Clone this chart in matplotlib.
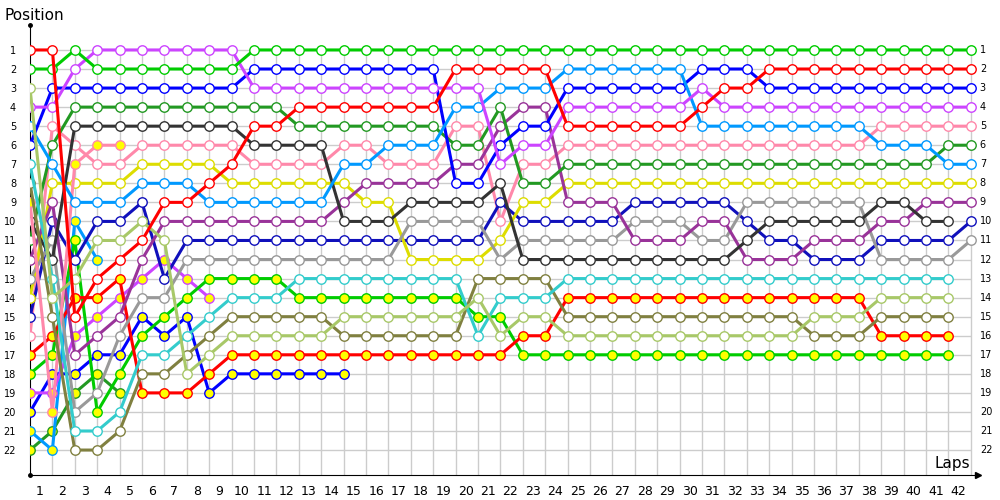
import numpy as np
import matplotlib.pyplot as plt

# positions per lap, lap 0 = starting grid
red = [1, 1, 15, 13, 12, 11, 9, 9, 8, 7,
       5, 5, 4, 4, 4, 4, 4, 4, 4, 2,
       2, 2, 2, 2, 5, 5, 5, 5, 5, 5,
       4, 3, 3, 2, 2, 2, 2, 2, 2, 2,
       2, 2, 2]
green = [2, 2, 1, 2, 2, 2, 2, 2, 2, 2] + [1] * 33
lgreen = [3, 14, 13, 11, 11, 10, 11, 18, 17, 16,
          16, 16, 16, 16, 15, 15, 15, 15, 15, 15,
          14, 16, 15, 15, 16, 16, 16, 16, 16, 16,
          16, 16, 16, 16, 16, 15, 15, 15, 14, 14,
          14, 14]
violet = [4, 4, 2, 1, 1, 1, 1, 1, 1, 1,
          3, 3, 3, 3, 3, 3, 3, 3, 3, 3,
          3, 7, 6, 6, 4, 4, 4, 4, 4, 4,
          3, 4, 4, 4, 4, 4, 4, 4, 4, 4,
          4, 4, 4]
lblue = [5, 7, 9, 9, 9, 8, 8, 8, 9, 9,
         9, 9, 9, 9, 7, 7, 6, 6, 6, 4,
         4, 3, 3, 3, 2, 2, 2, 2, 2, 2,
         5, 5, 5, 5, 5, 5, 5, 5, 6, 6,
         6, 7, 7]
blue = [6, 3, 3, 3, 3, 3, 3, 3, 3, 3,
        2, 2, 2, 2, 2, 2, 2, 2, 2, 8,
        8, 6, 5, 5, 3, 3, 3, 3, 3, 3,
        2, 2, 2, 3, 3, 3, 3, 3, 3, 3,
        3, 3, 3]
cyan = [7, 13, 21, 21, 20, 17, 17, 16, 15, 14,
        14, 14, 13, 13, 13, 13, 13, 13, 13, 13,
        16, 14, 14, 14, 13, 13, 13, 13, 13, 13,
        13, 13, 13, 13, 13, 13, 13, 13, 13, 13,
        13, 13]
olive = [8, 15, 22, 22, 21, 18, 18, 17, 16, 15,
         15, 15, 15, 15, 16, 16, 16, 16, 16, 16,
         13, 13, 13, 13, 15, 15, 15, 15, 15, 15,
         15, 15, 15, 15, 15, 16, 16, 16, 15, 15,
         15, 15]
dgray = [10, 12, 5, 5, 5, 5, 5, 5, 5, 5,
         6, 6, 6, 6, 10, 10, 10, 9, 9, 9,
         9, 8, 12, 12, 12, 12, 12, 12, 12, 12,
         12, 12, 11, 10, 10, 10, 10, 10, 9, 9,
         10, 10]
dgreen = [11, 6, 4, 4, 4, 4, 4, 4, 4, 4,
          4, 4, 5, 5, 5, 5, 5, 5, 5, 6,
          6, 4, 8, 8, 7, 7, 7, 7, 7, 7,
          7, 7, 7, 7, 7, 7, 7, 7, 7, 7,
          7, 6, 6]
purple = [12, 9, 17, 16, 15, 12, 10, 10, 10, 10,
          10, 10, 10, 10, 9, 8, 8, 8, 8, 7,
          7, 5, 4, 4, 9, 9, 9, 11, 11, 11,
          10, 10, 12, 12, 12, 11, 11, 11, 10, 10,
          9, 9, 9]
gray = [13, 11, 20, 19, 16, 14, 14, 12, 12, 12,
        12, 12, 12, 12, 12, 12, 12, 10, 10, 10,
        10, 12, 11, 11, 11, 11, 11, 10, 10, 10,
        11, 11, 9, 9, 9, 9, 9, 9, 12, 12,
        12, 12, 11]
yellow = [14, 8, 8, 8, 8, 7, 7, 7, 7, 8,
          8, 8, 8, 8, 8, 9, 9, 12, 12, 12,
          12, 11, 9, 9, 8, 8, 8, 8, 8, 8,
          8, 8, 8, 8, 8, 8, 8, 8, 8, 8,
          8, 8, 8]
dblue = [15, 10, 12, 10, 10, 9, 13, 11, 11, 11,
         11, 11, 11, 11, 11, 11, 11, 11, 11, 11,
         11, 9, 10, 10, 10, 10, 10, 9, 9, 9,
         9, 9, 10, 11, 11, 12, 12, 12, 11, 11,
         11, 11, 10]
pink = [16, 5, 6, 7, 7, 6, 6, 6, 6, 6,
        7, 7, 7, 7, 6, 6, 7, 7, 7, 5,
        5, 10, 7, 7, 6, 6, 6, 6, 6, 6,
        6, 6, 6, 6, 6, 6, 6, 6, 5, 5,
        5, 5, 5]
red_b = [17, 16, 14, 14, 13, 19, 19, 19, 18, 17,
         17, 17, 17, 17, 17, 17, 17, 17, 17, 17,
         17, 17, 16, 16, 14, 14, 14, 14, 14, 14,
         14, 14, 14, 14, 14, 14, 14, 14, 16, 16,
         16, 16]
green_b = [18, 17, 11, 20, 18, 16, 15, 14, 13, 13,
           13, 13, 14, 14, 14, 14, 14, 14, 14, 14,
           15, 15, 17, 17, 17, 17, 17, 17, 17, 17,
           17, 17, 17, 17, 17, 17, 17, 17, 17, 17,
           17, 17]
pink_b = [9, 20, 7, 6, 6]
violet_b = [19, 19, 16, 15, 14, 13, 12, 13, 14]
blue_b = [20, 18, 18, 17, 17, 15, 16, 15, 19, 18, 18, 18, 18, 18, 18]
lblue_b = [21, 22, 10, 12]
dgreen_b = [22, 21, 19, 18, 19]

# (positions, line colour, second car = yellow marker)
drivers = [
    (dgreen_b, '#229922', True), (lblue_b, '#0099ff', True),
    (blue_b, '#0000ff', True), (violet_b, '#cc44ff', True),
    (green_b, '#00cc00', True), (red_b, '#ff0000', True),
    (pink, '#ff88aa', False), (dblue, '#1010bb', False),
    (yellow, '#dddd00', False), (gray, '#999999', False),
    (purple, '#993399', False), (dgreen, '#229922', False),
    (dgray, '#333333', False), (pink_b, '#ff88aa', True),
    (olive, '#808040', False), (cyan, '#33cccc', False),
    (blue, '#0000ff', False), (lblue, '#0099ff', False),
    (violet, '#cc44ff', False), (lgreen, '#a8c868', False),
    (green, '#00cc00', False), (red, '#ff0000', False),
]

n_laps = 42
n_pos = 22

fig = plt.figure(figsize=(10, 5), dpi=100)
ax = fig.add_axes([0.03, 0.05, 0.948, 0.9])
ax.set_xlim(0, 42.32)
ax.set_ylim(23.31, -0.31)

# grid
ax.hlines(np.arange(1, n_pos + 1), 0, n_laps, color='#cccccc', lw=1, zorder=0)
ax.vlines(np.arange(1, n_laps + 1), 1, 23.31, color='#cccccc', lw=1, zorder=0)

for pos, col, second in drivers:
    x = np.arange(len(pos))
    ax.plot(x, pos, '-o', color=col, lw=2.2, ms=6.8, mew=1,
            mec=col, mfc='#ffff00' if second else 'white', zorder=3)

for s in ['top', 'right']:
    ax.spines[s].set_visible(False)
ax.spines['left'].set_color('black')
ax.spines['bottom'].set_color('black')
ax.plot([0, 0], [23.31, -0.31], 'ko', ms=2.5, clip_on=False, zorder=5)
ax.plot(42.32, 23.31, marker='>', color='black', ms=5, clip_on=False, zorder=5)

ax.set_yticks(np.arange(1, n_pos + 1))
ax.set_yticklabels([str(i) for i in range(1, n_pos + 1)], fontsize=7)
ax.set_xticks(np.arange(1, n_laps + 1) - 0.55)
ax.set_xticklabels([str(i) for i in range(1, n_laps + 1)], fontsize=9)
ax.tick_params(axis='y', length=0, pad=10)
ax.tick_params(axis='x', length=0, pad=7)

for i in range(1, n_pos + 1):
    ax.text(42.4, i, str(i), fontsize=7, va='center', ha='left')

fig.text(0.004, 0.97, 'Position', fontsize=11, va='center', ha='left')
ax.text(41.95, 22.72, 'Laps', fontsize=11, va='center', ha='right')

plt.savefig('out.png', dpi=100)
